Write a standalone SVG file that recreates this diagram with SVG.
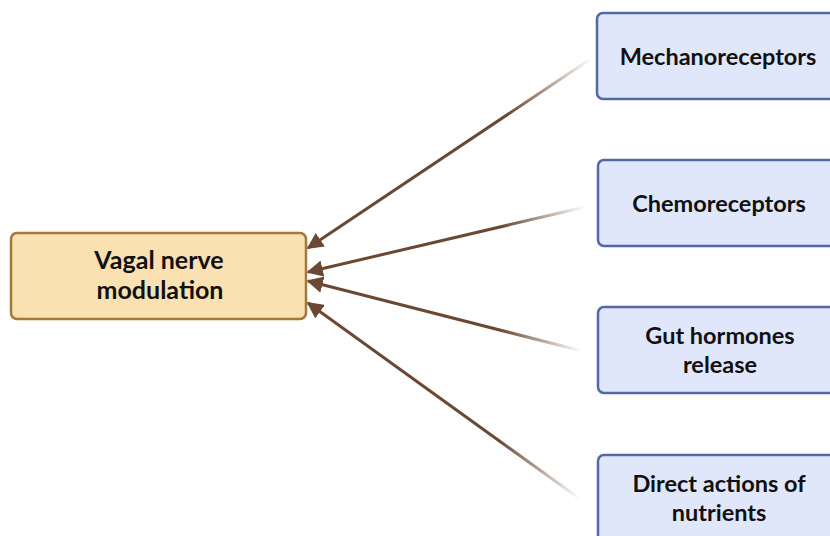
<svg xmlns="http://www.w3.org/2000/svg" width="830" height="536" viewBox="0 0 830 536">
<style>
.src rect{fill:#e1e7fa;stroke:#5467a8;stroke-width:2.5}
.dst rect{fill:#f9e1b2;stroke:#a8773c;stroke-width:2.5}
text{font-family:Lato,"Liberation Sans",sans-serif;font-weight:bold;font-size:23.5px;fill:#111;text-anchor:middle}
.dst text{font-size:25px}
.conn line{stroke-width:3;fill:none}
</style>
<defs>
<marker id="ah" viewBox="0 0 10 10" refX="9" refY="5" markerWidth="5.5" markerHeight="5.5" orient="auto-start-reverse" markerUnits="strokeWidth">
<path d="M0,0 L10,5 L0,10 Z" fill="#6a4832"/>
</marker>
<linearGradient id="g1" gradientUnits="userSpaceOnUse" x1="308" y1="248" x2="592" y2="58"><stop offset="0.7" stop-color="#6a4832"/><stop offset="1" stop-color="#6a4832" stop-opacity="0"/></linearGradient>
<linearGradient id="g2" gradientUnits="userSpaceOnUse" x1="308" y1="272" x2="585" y2="207"><stop offset="0.7" stop-color="#6a4832"/><stop offset="1" stop-color="#6a4832" stop-opacity="0"/></linearGradient>
<linearGradient id="g3" gradientUnits="userSpaceOnUse" x1="308" y1="281" x2="582" y2="351"><stop offset="0.7" stop-color="#6a4832"/><stop offset="1" stop-color="#6a4832" stop-opacity="0"/></linearGradient>
<linearGradient id="g4" gradientUnits="userSpaceOnUse" x1="308" y1="303" x2="580" y2="499"><stop offset="0.7" stop-color="#6a4832"/><stop offset="1" stop-color="#6a4832" stop-opacity="0"/></linearGradient>
</defs>
<g id="connectors" class="conn">
<line x1="592" y1="58" x2="308" y2="248" stroke="url(#g1)" marker-end="url(#ah)"/>
<line x1="585" y1="207" x2="308" y2="272" stroke="url(#g2)" marker-end="url(#ah)"/>
<line x1="582" y1="351" x2="308" y2="281" stroke="url(#g3)" marker-end="url(#ah)"/>
<line x1="580" y1="499" x2="308" y2="303" stroke="url(#g4)" marker-end="url(#ah)"/>
</g>
<g id="vagal" class="dst">
<rect x="11" y="233" width="295" height="86" rx="6"/>
<text x="159" y="269">Vagal nerve</text>
<text x="160" y="299">modulation</text>
</g>
<g id="mechano" class="src">
<rect x="597" y="13" width="250" height="86" rx="6"/>
<text x="718" y="65">Mechanoreceptors</text>
</g>
<g id="chemo" class="src">
<rect x="598" y="160" width="250" height="86" rx="6"/>
<text x="719" y="212">Chemoreceptors</text>
</g>
<g id="gut" class="src">
<rect x="598" y="307" width="250" height="86" rx="6"/>
<text x="720" y="344">Gut hormones</text>
<text x="720" y="373">release</text>
</g>
<g id="nutrients" class="src">
<rect x="598" y="455" width="250" height="100" rx="6"/>
<text x="719" y="492">Direct actions of</text>
<text x="719" y="521">nutrients</text>
</g>
</svg>
